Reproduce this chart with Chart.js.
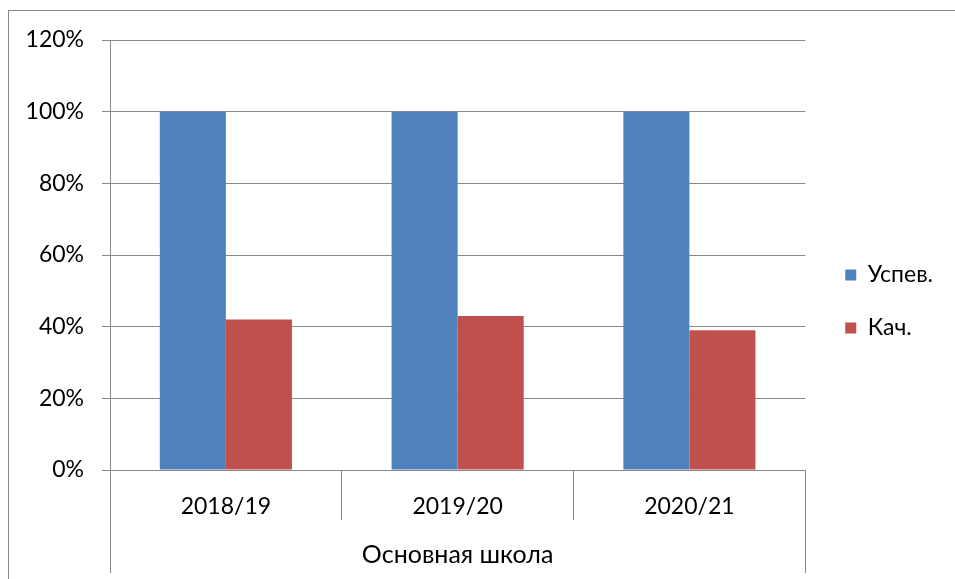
<!DOCTYPE html>
<html lang="ru">
<head>
    <meta charset="UTF-8">
    <title>Основная школа</title>
    <script src="https://cdn.jsdelivr.net/npm/chart.js"></script>
    <style>
        html, body { margin: 0; padding: 0; background: #fff; }
        #wrap { width: 955px; height: 579px; }
    </style>
</head>
<body>
    <div id="wrap"><canvas id="chart" width="955" height="579"></canvas></div>

    <script>
        // data
        var years = ['2018/19', '2019/20', '2020/21'];
        var groupLabel = 'Основная школа';
        var uspev = [100, 100, 100];
        var kach = [42, 43, 39];
        var yTicks = [0, 20, 40, 60, 80, 100, 120];

        var lineColor = '#888888';
        var fontFamily = 'Lato, "Liberation Sans", sans-serif';

        // frame around the chart plus the long group separators below the axis
        var extraLines = {
            id: 'extraLines',
            afterLayout: function (chart) {
                // nudge legend to where the original has it
                chart.legend.left += 10;
                chart.legend.right += 10;
                chart.legend.top -= 8;
                chart.legend.bottom -= 8;
            },
            beforeDraw: function (chart) {
                var ctx = chart.ctx;
                ctx.save();
                ctx.strokeStyle = lineColor;
                ctx.lineWidth = 1;
                ctx.strokeRect(8.5, 10.5, 3000, 3000);
                ctx.restore();
            },
            afterDraw: function (chart) {
                var ctx = chart.ctx;
                var x = chart.scales.x;
                ctx.save();
                ctx.strokeStyle = lineColor;
                ctx.lineWidth = 1;
                ctx.beginPath();
                [x.left, x.right].forEach(function (px) {
                    var p = Math.round(px) + 0.5;
                    ctx.moveTo(p, x.top);
                    ctx.lineTo(p, chart.height - 6);
                });
                ctx.stroke();
                ctx.restore();
            }
        };

        Chart.defaults.font.family = fontFamily;
        Chart.defaults.font.size = 22;
        Chart.defaults.color = '#000';

        new Chart(document.getElementById('chart'), {
            type: 'bar',
            data: {
                labels: years,
                datasets: [
                    {
                        label: 'Успев.',
                        data: uspev,
                        backgroundColor: '#4f81bd',
                        categoryPercentage: 0.57,
                        barPercentage: 1
                    },
                    {
                        label: 'Кач.',
                        data: kach,
                        backgroundColor: '#c0504d',
                        categoryPercentage: 0.57,
                        barPercentage: 1
                    }
                ]
            },
            options: {
                responsive: false,
                animation: false,
                layout: { padding: { top: 40, right: 22, bottom: 0, left: 0 } },
                plugins: {
                    tooltip: { enabled: false },
                    legend: {
                        position: 'right',
                        labels: {
                            boxWidth: 11,
                            boxHeight: 11,
                            padding: 30,
                            font: { size: 23 }
                        }
                    }
                },
                scales: {
                    x: {
                        grid: {
                            display: true,
                            drawOnChartArea: false,
                            tickLength: 50,
                            offset: true,
                            // outer edges are drawn by the plugin (they run longer)
                            color: function (c) {
                                return (c.index === 0 || c.index === years.length) ? 'rgba(0,0,0,0)' : lineColor;
                            }
                        },
                        border: { display: false },
                        ticks: { padding: -27, font: { size: 23 } },
                        title: {
                            display: true,
                            text: groupLabel,
                            font: { size: 25 },
                            padding: { top: 0, bottom: 9 }
                        },
                        afterFit: function (scale) { scale.height = 109; }
                    },
                    y: {
                        min: 0,
                        max: 120,
                        afterBuildTicks: function (scale) {
                            scale.ticks = yTicks.map(function (v) { return { value: v }; });
                        },
                        grid: {
                            color: lineColor,
                            tickLength: 8
                        },
                        border: { color: lineColor },
                        ticks: {
                            padding: 18,
                            font: { size: 23 },
                            callback: function (v) { return v + '%'; }
                        },
                        afterFit: function (scale) { scale.width = 110; }
                    }
                }
            },
            plugins: [extraLines]
        });
    </script>
</body>
</html>
